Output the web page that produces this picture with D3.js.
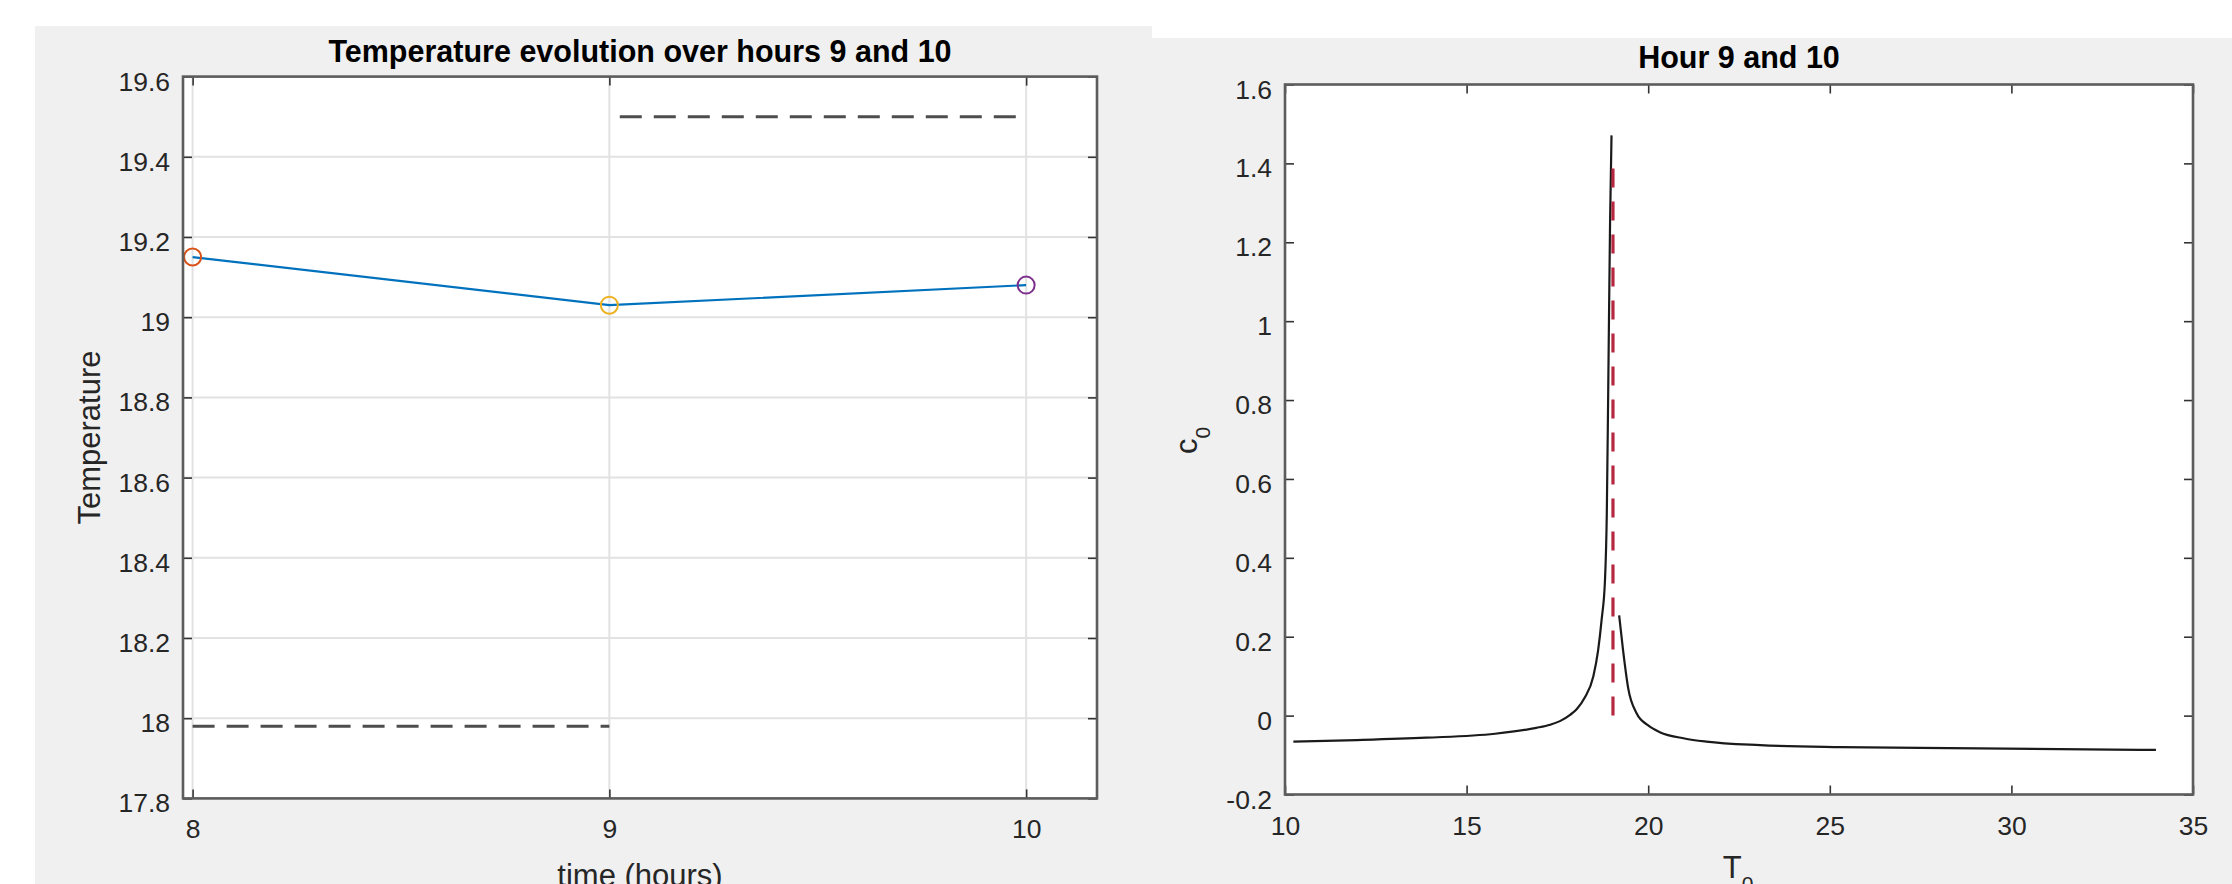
<!DOCTYPE html>
<html>
<head>
<meta charset="utf-8">
<script src="https://cdn.jsdelivr.net/npm/d3@7"></script>
<style>
  html, body { margin: 0; padding: 0; background: #ffffff; }
  svg { display: block; font-family: "Liberation Sans", Arial, Helvetica, sans-serif; }
</style>
</head>
<body>
<svg id="chart" width="2232" height="884"></svg>
<script>
// ---------------- data ----------------
// Left chart: temperature evolution
const hours = [8, 9, 10];
const temps = [19.15, 19.03, 19.08];
const markerColors = ["#D95319", "#EDB120", "#7E2F8E"];
const lowerBoundX = [8, 9];
const lowerBoundY = [17.98, 17.98];
const upperBoundX = [9.025, 10];
const upperBoundY = [19.5, 19.5];
const leftXTicks = [8, 9, 10];
const leftYTicks = [17.8, 18, 18.2, 18.4, 18.6, 18.8, 19, 19.2, 19.4, 19.6];

// Right chart: c0 vs T0
const curveLeftT = [10.23, 11.98, 13.88, 15.78, 16.92, 17.3, 17.57, 17.85, 18.03, 18.25, 18.49, 18.62, 18.72, 18.81, 18.86, 18.90, 18.95, 18.99];
const curveLeftC = [-0.066, -0.062, -0.056, -0.046, -0.031, -0.023, -0.014, 0.002, 0.016, 0.045, 0.10, 0.165, 0.245, 0.343, 0.512, 0.83, 1.251, 1.471];
const curveRightT = [19.20, 19.31, 19.45, 19.68, 20.0, 20.32, 21.0, 21.6, 23.08, 25.28, 29.08, 33.98];
const curveRightC = [0.254, 0.164, 0.069, 0.006, -0.025, -0.042, -0.058, -0.066, -0.075, -0.080, -0.083, -0.087];
const refLineT = [19.03, 19.03];
const refLineC = [0, 1.4];
const rightXTicks = [10, 15, 20, 25, 30, 35];
const rightYTicks = [-0.2, 0, 0.2, 0.4, 0.6, 0.8, 1, 1.2, 1.4, 1.6];

// ---------------- layout ----------------
const svg = d3.select("#chart");
const FONT_TICK = 26.5, FONT_LABEL = 31, FONT_TITLE = 30.5;
const BOX_COLOR = "#5c5c5c", TICK_COLOR = "#333333", TEXT_COLOR = "#262626";

// figure backgrounds
svg.append("rect").attr("x", 35).attr("y", 26).attr("width", 1117).attr("height", 884 - 26).attr("fill", "#f0f0f0");
svg.append("rect").attr("x", 1152).attr("y", 38).attr("width", 2232 - 1152).attr("height", 884 - 38).attr("fill", "#f0f0f0");

function fmt(d) { return String(+d.toFixed(2)); }

function drawAxes(g, x, y, xTicks, yTicks, grid) {
  const [x0, x1] = x.range();
  const [y1, y0] = y.range();
  g.append("rect").attr("x", x0).attr("y", y0).attr("width", x1 - x0).attr("height", y1 - y0).attr("fill", "#ffffff");
  if (grid) {
    g.append("g").selectAll("line").data(yTicks).join("line")
      .attr("x1", x0).attr("x2", x1).attr("y1", d => y(d)).attr("y2", d => y(d))
      .attr("stroke", "#e2e2e2").attr("stroke-width", 2);
    g.append("g").selectAll("line").data(xTicks).join("line")
      .attr("y1", y0).attr("y2", y1).attr("x1", d => x(d)).attr("x2", d => x(d))
      .attr("stroke", "#e2e2e2").attr("stroke-width", 2);
  }
}

function drawFrame(g, x, y, xTicks, yTicks) {
  const [x0, x1] = x.range();
  const [y1, y0] = y.range();
  const style = sel => {
    sel.select(".domain").remove();
    sel.selectAll(".tick line").attr("stroke", TICK_COLOR).attr("stroke-width", 1.6);
  };
  const bottom = g.append("g").attr("transform", `translate(0,${y1})`)
    .call(d3.axisBottom(x).tickValues(xTicks).tickSize(-9).tickFormat(fmt)).call(style);
  bottom.selectAll("text").attr("y", 40).attr("dy", null)
    .attr("font-size", FONT_TICK).attr("fill", TEXT_COLOR);
  g.append("g").attr("transform", `translate(0,${y0})`)
    .call(d3.axisTop(x).tickValues(xTicks).tickSize(-9).tickFormat("")).call(style);
  const left = g.append("g").attr("transform", `translate(${x0},0)`)
    .call(d3.axisLeft(y).tickValues(yTicks).tickSize(-9).tickFormat(fmt)).call(style);
  left.selectAll("text").attr("x", -13).attr("dy", 13.5)
    .attr("font-size", FONT_TICK).attr("fill", TEXT_COLOR);
  g.append("g").attr("transform", `translate(${x1},0)`)
    .call(d3.axisRight(y).tickValues(yTicks).tickSize(-9).tickFormat("")).call(style);
  g.selectAll("g").attr("font-family", null).attr("font-size", null);
  g.append("rect").attr("x", x0).attr("y", y0).attr("width", x1 - x0).attr("height", y1 - y0)
    .attr("fill", "none").attr("stroke", BOX_COLOR).attr("stroke-width", 2.6);
}

// ---------------- left chart ----------------
const xL = d3.scaleLinear().domain([7.977, 10.17]).range([183, 1097]);
const yL = d3.scaleLinear().domain([17.8, 19.6]).range([798.4, 76.6]);
const gL = svg.append("g");
drawAxes(gL, xL, yL, leftXTicks, leftYTicks, true);

const lineL = d3.line().x(d => xL(d[0])).y(d => yL(d[1]));
gL.append("path").datum(d3.zip(lowerBoundX, lowerBoundY)).attr("d", lineL)
  .attr("fill", "none").attr("stroke", "#4d4d4d").attr("stroke-width", 3).attr("stroke-dasharray", "22 12");
gL.append("path").datum(d3.zip(upperBoundX, upperBoundY)).attr("d", lineL)
  .attr("fill", "none").attr("stroke", "#4d4d4d").attr("stroke-width", 3).attr("stroke-dasharray", "22 12");
gL.append("path").datum(d3.zip(hours, temps)).attr("d", lineL)
  .attr("fill", "none").attr("stroke", "#0072BD").attr("stroke-width", 2.2);
gL.append("g").selectAll("circle").data(d3.zip(hours, temps, markerColors)).join("circle")
  .attr("cx", d => xL(d[0])).attr("cy", d => yL(d[1])).attr("r", 8.5)
  .attr("fill", "none").attr("stroke", d => d[2]).attr("stroke-width", 2);
drawFrame(gL, xL, yL, leftXTicks, leftYTicks);

gL.append("text").attr("x", 640).attr("y", 62).attr("text-anchor", "middle")
  .attr("font-size", FONT_TITLE).attr("font-weight", "bold").attr("fill", "#000")
  .text("Temperature evolution over hours 9 and 10");
gL.append("text").attr("x", 640).attr("y", 886).attr("text-anchor", "middle")
  .attr("font-size", FONT_LABEL).attr("fill", TEXT_COLOR).text("time (hours)");
gL.append("text").attr("transform", "translate(100,437.5) rotate(-90)").attr("text-anchor", "middle")
  .attr("font-size", FONT_LABEL).attr("fill", TEXT_COLOR).text("Temperature");

// ---------------- right chart ----------------
const xR = d3.scaleLinear().domain([10, 35]).range([1285, 2193]);
const yR = d3.scaleLinear().domain([-0.2, 1.6]).range([794.5, 84.5]);
const gR = svg.append("g");
drawAxes(gR, xR, yR, rightXTicks, rightYTicks, false);

const lineR = d3.line().x(d => xR(d[0])).y(d => yR(d[1])).curve(d3.curveMonotoneX);
gR.append("path").datum(d3.zip(curveLeftT, curveLeftC)).attr("d", lineR)
  .attr("fill", "none").attr("stroke", "#1a1a1a").attr("stroke-width", 2.2);
gR.append("path").datum(d3.zip(curveRightT, curveRightC)).attr("d", lineR)
  .attr("fill", "none").attr("stroke", "#1a1a1a").attr("stroke-width", 2.2);
gR.append("path").datum(d3.zip(refLineT, refLineC)).attr("d", d3.line().x(d => xR(d[0])).y(d => yR(d[1])))
  .attr("fill", "none").attr("stroke", "#B5283F").attr("stroke-width", 3.2).attr("stroke-dasharray", "19 14");
drawFrame(gR, xR, yR, rightXTicks, rightYTicks);

gR.append("text").attr("x", 1739).attr("y", 68).attr("text-anchor", "middle")
  .attr("font-size", FONT_TITLE).attr("font-weight", "bold").attr("fill", "#000")
  .text("Hour 9 and 10");
const tLab = gR.append("text").attr("x", 1738).attr("y", 878).attr("text-anchor", "middle")
  .attr("font-size", FONT_LABEL).attr("fill", TEXT_COLOR);
tLab.append("tspan").text("T");
tLab.append("tspan").attr("dy", 13).attr("font-size", 21).text("0");
const cLab = gR.append("text").attr("transform", "translate(1197,440.5) rotate(-90)").attr("text-anchor", "middle")
  .attr("font-size", FONT_LABEL).attr("fill", TEXT_COLOR);
cLab.append("tspan").text("c");
cLab.append("tspan").attr("dy", 13).attr("font-size", 21).text("0");
</script>
</body>
</html>
